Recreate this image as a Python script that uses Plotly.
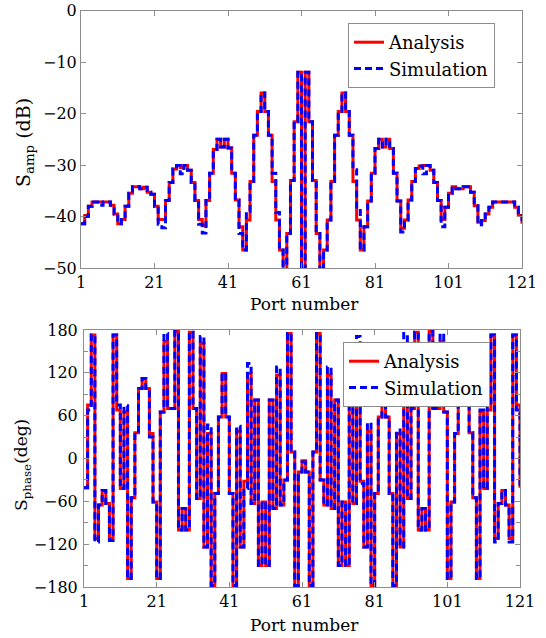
import plotly.graph_objects as go

# ---------------- data ----------------
ports = list(range(1, 122))
x_ticks = [1, 21, 41, 61, 81, 101, 121]
amp_ticks = [0, -10, -20, -30, -40, -50]
phase_ticks = [180, 120, 60, 0, -60, -120, -180]

amp_analysis = [
    -41.4, -39.8, -38.0, -37.2, -37.2, -37.2, -37.2, -37.2, -37.8, -39.5,
    -41.4, -40.6, -38.0, -35.5, -34.2, -34.2, -34.6, -34.3, -35.3, -35.7,
    -38.0, -40.6, -40.6, -36.9, -33.4, -30.8, -30.1, -30.5, -30.1, -31.0,
    -33.4, -36.9, -40.6, -41.8, -36.9, -31.6, -27.0, -25.0, -26.5, -25.0,
    -26.7, -31.6, -36.8, -42.0, -46.5, -40.7, -33.2, -24.2, -19.6, -16.0,
    -19.6, -24.2, -33.2, -40.7, -46.5, -56.0, -43.3, -33.0, -21.6, -12.0,
    -60.0,
    -12.0, -21.6, -33.0, -43.3, -56.0, -46.5, -40.7, -33.2, -24.2, -19.6,
    -16.0, -19.6, -24.2, -33.2, -40.7, -46.5, -42.0, -37.0, -31.6, -26.8,
    -25.0, -26.5, -25.0, -26.8, -31.6, -37.0, -42.3, -40.7, -36.8, -33.2,
    -30.7, -30.2, -30.1, -30.1, -31.0, -33.4, -36.9, -40.6, -38.2, -35.5,
    -34.2, -34.6, -34.6, -34.2, -34.2, -35.3, -37.9, -41.1, -40.8, -39.5,
    -38.2, -37.2, -37.2, -37.2, -37.2, -37.2, -37.2, -38.2, -39.8, -41.4,
]

amp_simulation = [
    -41.4, -40.0, -38.0, -37.2, -37.2, -37.8, -37.2, -37.2, -37.8, -39.5,
    -41.4, -40.6, -38.0, -35.5, -34.2, -34.2, -34.6, -34.3, -35.3, -35.7,
    -38.0, -41.5, -42.2, -36.9, -33.4, -30.8, -30.1, -31.7, -30.1, -31.0,
    -33.4, -36.9, -41.5, -43.2, -36.9, -31.6, -27.0, -25.0, -26.5, -25.0,
    -26.7, -31.6, -36.8, -43.3, -46.5, -39.0, -33.2, -24.2, -19.6, -16.0,
    -19.6, -24.2, -31.6, -39.2, -46.5, -56.0, -43.3, -33.0, -21.6, -12.0,
    -60.0,
    -12.0, -21.6, -33.0, -43.3, -56.0, -46.5, -40.7, -33.2, -24.2, -19.6,
    -16.0, -19.6, -24.2, -30.9, -38.5, -46.5, -42.0, -37.0, -31.6, -26.8,
    -25.0, -26.5, -25.0, -26.8, -31.6, -37.0, -43.0, -40.7, -36.8, -33.2,
    -30.7, -30.2, -31.7, -30.1, -31.0, -33.4, -36.9, -42.0, -38.2, -35.5,
    -34.2, -34.6, -34.6, -34.2, -34.2, -35.3, -37.9, -41.6, -40.8, -39.5,
    -38.2, -37.2, -37.2, -37.2, -37.2, -37.2, -37.2, -38.2, -39.8, -41.4,
]

phase_analysis = [
    -41, 75, 173, -112, -65, -45, -63, -112, 173, 68,
    -42, 65, -168, -55, 36, 98, 112, 98, 35, -61,
    -168, 65, 164, 70, 70, 178, -100, -70, -100, 177,
    70, -56, 161, -124, 35, -178, -49, 58, 119, 58,
    -49, -178, 38, -124, -32, 119, -63, 82, -150, -61,
    -150, 82, -70, 117, -65, -30, 175, 9, -178, -19,
    -3,
    -19, -178, 9, 175, -30, -65, 117, -70, 82, -150,
    -61, -150, 82, -63, 119, -32, -124, 38, -178, -49,
    58, 119, 58, -49, -178, 35, -124, 161, -56, 70,
    177, -100, -70, -100, 178, 70, 70, 164, 65, -168,
    -61, 35, 98, 112, 98, 36, -55, -168, 65, -42,
    68, 173, -112, -63, -45, -65, -112, 173, 75, -41,
]

phase_simulation = [
    -41, 68, 173, -117, -65, -45, -63, -115, 173, 75,
    -42, 74, -168, -55, 36, 98, 112, 98, 30, -61,
    -168, 65, 175, 70, 70, 178, -100, -70, -100, 177,
    70, -56, 171, -124, 47, -178, -49, 58, 119, 58,
    -49, -178, 45, -124, -42, 133, -63, 82, -150, -61,
    -150, 82, -70, 128, -65, -30, 175, 9, -178, -19,
    -5,
    -19, -178, 9, 175, -30, -65, 128, -70, 82, -150,
    -61, -150, 82, -63, 171, -35, -124, 50, -178, -49,
    58, 119, 58, -49, -178, 40, -124, 175, -56, 70,
    177, -100, -70, -100, 178, 70, 70, 175, 65, -168,
    -61, 35, 98, 112, 98, 36, -55, -168, 68, -42,
    75, 173, -117, -63, -45, -65, -117, 173, 68, -41,
]

# ---------------- figure ----------------
W, H = 546, 638
FONT = "DejaVu Serif"
AXC = "#8c8c8c"
RED = "#FF0000"
BLUE = "#0000FF"
DASH = "7px,4px"

fig = go.Figure()

fig.add_trace(go.Scatter(x=ports, y=amp_analysis, mode="lines", name="Analysis",
                         line=dict(color=RED, width=3, shape="hv"),
                         xaxis="x", yaxis="y", legend="legend"))
fig.add_trace(go.Scatter(x=ports, y=amp_simulation, mode="lines", name="Simulation",
                         line=dict(color=BLUE, width=3, dash=DASH, shape="hv"),
                         xaxis="x", yaxis="y", legend="legend"))
fig.add_trace(go.Scatter(x=ports, y=phase_analysis, mode="lines", name="Analysis",
                         line=dict(color=RED, width=3, shape="hv"),
                         xaxis="x2", yaxis="y2", legend="legend2"))
fig.add_trace(go.Scatter(x=ports, y=phase_simulation, mode="lines", name="Simulation",
                         line=dict(color=BLUE, width=3, dash=DASH, shape="hv"),
                         xaxis="x2", yaxis="y2", legend="legend2"))


def px_x(v):
    return v / W


def px_y(v):
    return 1 - v / H


common = dict(showgrid=False, zeroline=False, showline=True, linecolor=AXC, linewidth=1,
              mirror="ticks", ticks="inside", ticklen=5, tickcolor=AXC, automargin=False,
              ticklabeloverflow="allow",
              tickfont=dict(family=FONT, size=16, color="#000000"))

legend_style = dict(xanchor="left", yanchor="top", bgcolor="white", bordercolor=AXC,
                    borderwidth=1, font=dict(family=FONT, size=18, color="#000000"),
                    tracegroupgap=0, itemwidth=30)

fig.update_layout(
    template="none",
    width=W, height=H,
    margin=dict(l=0, r=0, t=0, b=0, autoexpand=False),
    paper_bgcolor="white", plot_bgcolor="white",
    font=dict(family=FONT, size=16, color="#000000"),
    xaxis=dict(domain=[px_x(81), px_x(522)], range=[1, 121], tickvals=x_ticks,
               anchor="y", ticklabelstandoff=0, **common),
    yaxis=dict(domain=[px_y(268), px_y(10.5)], range=[-50, 0], tickvals=amp_ticks,
               anchor="x", ticklabelstandoff=0, **common),
    xaxis2=dict(domain=[px_x(84), px_x(520)], range=[1, 121], tickvals=x_ticks,
                anchor="y2", ticklabelstandoff=0, **common),
    yaxis2=dict(domain=[px_y(587), px_y(330)], range=[-180, 180], tickvals=phase_ticks,
                anchor="x2", ticklabelstandoff=2,
                minor=dict(dtick=30, ticks="inside", ticklen=4, tickcolor=AXC),
                **common),
    legend=dict(x=px_x(348), y=px_y(23), **legend_style),
    legend2=dict(x=px_x(343), y=px_y(342), **legend_style),
    showlegend=True,
)

annots = [
    dict(text="Port number", x=px_x(304), y=px_y(304), size=17),
    dict(text="Port number", x=px_x(304), y=px_y(625), size=17),
    dict(text="S<sub>amp</sub> (dB)", x=px_x(24), y=px_y(143), textangle=-90, size=19),
    dict(text="S<sub>phase</sub>(deg)", x=px_x(22), y=px_y(465), textangle=-90, size=17),
]
for a in annots:
    size = a.pop("size")
    fig.add_annotation(xref="paper", yref="paper", showarrow=False,
                       xanchor="center", yanchor="middle",
                       font=dict(family=FONT, size=size, color="#000000"), **a)

fig.write_html("out.html", config={"displayModeBar": False},
               post_script="document.body.style.margin='0px';")
